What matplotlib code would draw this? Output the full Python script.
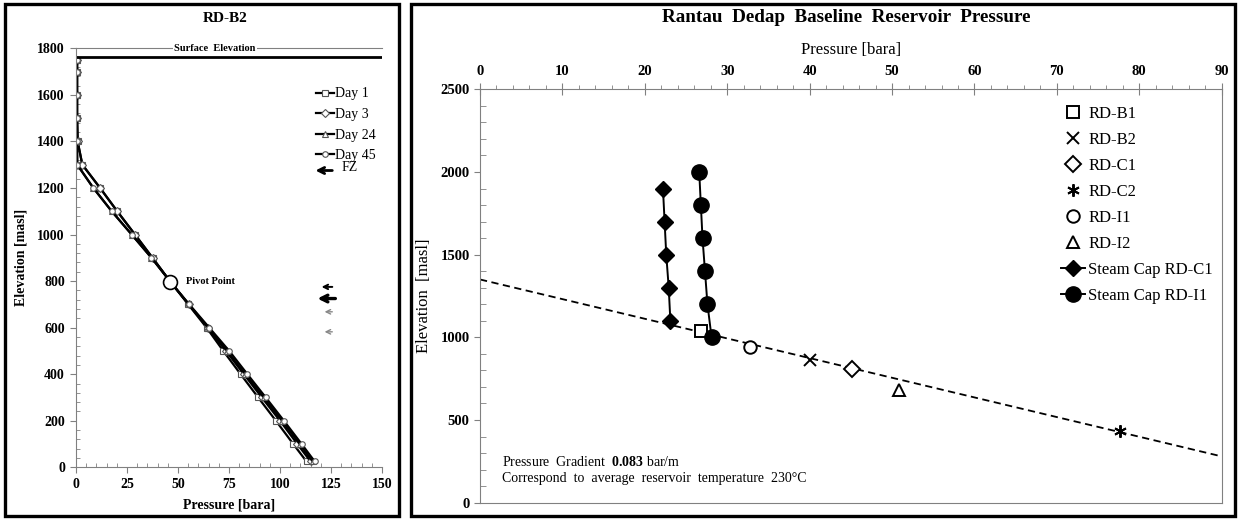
import numpy as np
import matplotlib.pyplot as plt
from matplotlib.lines import Line2D
from matplotlib.patches import Rectangle
from matplotlib.ticker import MultipleLocator

plt.rcParams['font.family'] = ['Liberation Serif', 'DejaVu Serif']
plt.rcParams['mathtext.fontset'] = 'custom'
plt.rcParams['mathtext.rm'] = 'Liberation Serif'
plt.rcParams['mathtext.bf'] = 'Liberation Serif:bold'

# ---- left chart data (RD-B2 pressure profiles) ----
b2_elev = [1750, 1700, 1600, 1500, 1400, 1300, 1200, 1100, 1000, 900, 800,
           700, 600, 500, 400, 300, 200, 100, 25]
day1 = [0.5, 0.5, 0.5, 0.5, 0.8, 3.1, 11.8, 20.2, 28.9, 37.5, 46,
        55, 64, 72.2, 80.7, 89.3, 98, 106.5, 113]
day3 = [0.5, 0.5, 0.5, 0.5, 0.8, 3.1, 11.8, 20.2, 28.9, 37.5, 46,
        55.2, 64.6, 73.5, 82.3, 91.1, 100, 108.5, 115]
day24 = [0.5, 0.5, 0.5, 0.5, 0.5, 0.6, 8.5, 17.5, 27.3, 37, 46,
         55.3, 64.8, 74, 83, 92, 101, 109.6, 116]
day45 = [0.5, 0.5, 0.5, 0.5, 0.5, 0.6, 8.5, 17.5, 27.3, 37, 46,
         55.5, 65.3, 75.1, 84, 93, 101.9, 110.6, 117]
day_labels = ['Day 1', 'Day 3', 'Day 24', 'Day 45']
day_markers = ['s', 'D', '^', 'o']
surface_elev = 1762
pivot_p, pivot_elev = 46, 795
fz_elev = [775, 725, 668, 582]
fz_legend_elev = 1275

# ---- right chart data (baseline reservoir pressure) ----
well_names = ['RD-B1', 'RD-B2', 'RD-C1', 'RD-C2', 'RD-I1', 'RD-I2']
well_p = [26.8, 40.0, 45.1, 77.6, 32.8, 50.8]
well_elev = [1040, 863, 808, 435, 940, 681]
well_markers = ['s', 'x', 'D', (6, 2, 0), 'o', '^']

cap_c1_p = [22.2, 22.4, 22.6, 22.9, 23.1]
cap_c1_elev = [1900, 1700, 1500, 1300, 1100]
cap_i1_p = [26.6, 26.8, 27.0, 27.3, 27.6, 28.1]
cap_i1_elev = [2000, 1800, 1600, 1400, 1200, 1000]

grad_p = [0, 90]
grad_elev = [1350, 280]

fig = plt.figure(figsize=(12.38, 5.19), dpi=100)

# panel frames
fig.patches.append(Rectangle((5 / 1238, 3 / 519), 394 / 1238, 512 / 519, transform=fig.transFigure,
                             fill=False, edgecolor='black', linewidth=2.4))
fig.patches.append(Rectangle((411 / 1238, 3 / 519), 824 / 1238, 512 / 519, transform=fig.transFigure,
                             fill=False, edgecolor='black', linewidth=2.4))

# ================= left chart =================
ax1 = fig.add_axes([76 / 1238, 1 - 467.3 / 519, 306 / 1238, 419 / 519])
for d, lab, m in zip([day1, day3, day24, day45], day_labels, day_markers):
    ax1.plot(d, b2_elev, color='black', linewidth=1.6, marker=m, markersize=4,
             markerfacecolor='white', markeredgecolor='#555555', markeredgewidth=0.8, label=lab)
ax1.plot([0.5, 150], [surface_elev, surface_elev], color='black', linewidth=2)
ax1.plot([pivot_p], [pivot_elev], marker='o', markersize=10, markerfacecolor='white',
         markeredgecolor='black', markeredgewidth=1.2)
ax1.text(pivot_p + 8, pivot_elev + 5, 'Pivot Point', fontsize=7.5, fontweight='bold', va='center')
ax1.text(68, 1800, 'Surface  Elevation', fontsize=7.5, fontweight='bold', ha='center', va='center',
         bbox=dict(facecolor='white', edgecolor='none', pad=1))

# feed zone arrows
fz_styles = [(1.4, 'black', 8), (2.4, 'black', 12), (1.0, '#888888', 8), (1.0, '#888888', 8)]
fz_x = [(127, 119), (128.5, 117), (127, 120.5), (127, 120.5)]
for e, (lw, c, ms), (x0, x1) in zip(fz_elev, fz_styles, fz_x):
    ax1.annotate('', xy=(x1, e), xytext=(x0, e),
                 arrowprops=dict(arrowstyle='->', color=c, lw=lw, mutation_scale=ms))
ax1.annotate('', xy=(116, fz_legend_elev), xytext=(127, fz_legend_elev),
             arrowprops=dict(arrowstyle='->', color='black', lw=2, mutation_scale=11))
ax1.text(130, fz_legend_elev + 15, 'FZ', fontsize=10, va='center')

ax1.legend(loc='upper left', bbox_to_anchor=(0.765, 0.92), frameon=False, fontsize=10,
           handlelength=1.3, handletextpad=0.1, labelspacing=0.55, borderaxespad=0)

ax1.set_xlim(0, 150)
ax1.set_ylim(0, 1800)
ax1.xaxis.set_major_locator(MultipleLocator(25))
ax1.xaxis.set_minor_locator(MultipleLocator(5))
ax1.yaxis.set_major_locator(MultipleLocator(200))
ax1.yaxis.set_minor_locator(MultipleLocator(40))
ax1.tick_params(which='major', direction='out', length=4, color='#808080', labelsize=10, pad=4)
ax1.tick_params(which='minor', direction='in', length=3, color='#808080')
for lab in ax1.get_xticklabels() + ax1.get_yticklabels():
    lab.set_fontweight('bold')
ax1.spines['right'].set_visible(False)
for s in ['left', 'bottom', 'top']:
    ax1.spines[s].set_color('#808080')
ax1.set_xlabel('Pressure [bara]', fontsize=10, fontweight='bold', labelpad=5)
ax1.set_ylabel('Elevation [masl]', fontsize=10, fontweight='bold', labelpad=7)
fig.text(225 / 1238, 1 - 18 / 519, 'RD-B2', fontsize=11, fontweight='bold', ha='center', va='center')

# ================= right chart =================
ax2 = fig.add_axes([480 / 1238, 1 - 502.7 / 519, 741.7 / 1238, 413.4 / 519])
ax2.plot(grad_p, grad_elev, color='black', linestyle=(0, (4, 2.5)), linewidth=1.3)
for name, p, e, m in zip(well_names, well_p, well_elev, well_markers):
    ms = 8 if m == 'D' else 9
    ax2.plot([p], [e], linestyle='none', marker=m, markersize=ms, markerfacecolor='white',
             markeredgecolor='black', markeredgewidth=1.4, label=name)
ax2.plot(cap_c1_p, cap_c1_elev, color='black', linewidth=1.4, marker='D', markersize=8,
         markerfacecolor='black', markeredgecolor='black', label='Steam Cap RD-C1')
ax2.plot(cap_i1_p, cap_i1_elev, color='black', linewidth=1.4, marker='o', markersize=11,
         markerfacecolor='black', markeredgecolor='black', label='Steam Cap RD-I1')

ax2.legend(loc='upper left', bbox_to_anchor=(0.775, 0.975), frameon=False, fontsize=12,
           handlelength=1.4, handletextpad=0.2, labelspacing=0.6, borderaxespad=0)

ax2.text(2.7, 246, r'Pressure  Gradient  $\mathbf{0.083}$ bar/m', fontsize=10, va='center')
ax2.text(2.7, 149, 'Correspond  to  average  reservoir  temperature  230\u00b0C', fontsize=10, va='center')

ax2.set_xlim(0, 90)
ax2.set_ylim(0, 2500)
ax2.xaxis.tick_top()
ax2.xaxis.set_label_position('top')
ax2.xaxis.set_major_locator(MultipleLocator(10))
ax2.xaxis.set_minor_locator(MultipleLocator(2))
ax2.yaxis.set_major_locator(MultipleLocator(500))
ax2.yaxis.set_minor_locator(MultipleLocator(100))
ax2.tick_params(axis='x', which='major', direction='inout', length=8, color='#808080', labelsize=10.5, pad=4)
ax2.tick_params(axis='x', which='minor', direction='out', length=3, color='#808080')
ax2.tick_params(axis='y', which='major', direction='out', length=4, color='#808080', labelsize=10.5)
ax2.tick_params(axis='y', which='minor', direction='in', length=4, color='#808080')
for lab in ax2.get_xticklabels() + ax2.get_yticklabels():
    lab.set_fontweight('bold')
for s in ax2.spines.values():
    s.set_color('#808080')
ax2.set_xlabel('Pressure [bara]', fontsize=12, labelpad=8)
ax2.set_ylabel('Elevation  [masl]', fontsize=12, labelpad=6)
fig.text(846 / 1238, 1 - 17 / 519, 'Rantau  Dedap  Baseline  Reservoir  Pressure', fontsize=13.8,
         fontweight='bold', ha='center', va='center')

fig.savefig('out.png', dpi=100)
